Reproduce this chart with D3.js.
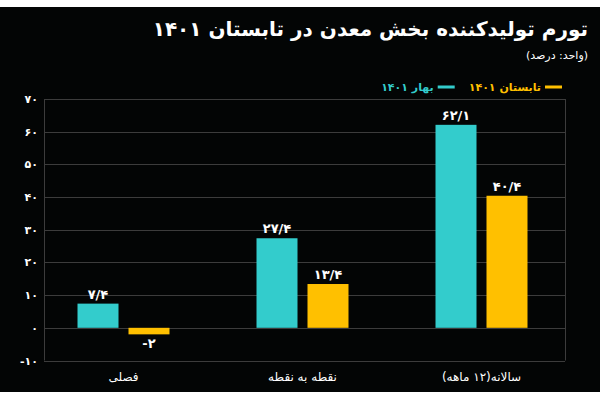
<!DOCTYPE html>
<html>
<head>
<meta charset="utf-8">
<script src="https://cdn.jsdelivr.net/npm/d3@7"></script>
<style>
  html, body { margin: 0; padding: 0; background: #ffffff; }
  svg { display: block; }
  text { font-family: "DejaVu Sans", "Noto Sans", sans-serif; }
</style>
</head>
<body>
<svg id="chart" width="600" height="400"></svg>
<script>
const categories = ["فصلی", "نقطه به نقطه", "سالانه(۱۲ ماهه)"];
const seriesNames = ["بهار ۱۴۰۱", "تابستان ۱۴۰۱"];
const springValues = [7.4, 27.4, 62.1];
const summerValues = [-2, 13.4, 40.4];
const yTicks = [-10, 0, 10, 20, 30, 40, 50, 60, 70];
const colors = ["#33CCCC", "#FFC000"];
const titleText = "تورم تولیدکننده بخش معدن در تابستان ۱۴۰۱";
const subtitleText = "(واحد: درصد)";

const fa = s => String(s).replace(/\d/g, d => "۰۱۲۳۴۵۶۷۸۹"[+d]).replace(".", "/");

const svg = d3.select("#chart");
svg.append("rect").attr("x", 0).attr("y", 7).attr("width", 600).attr("height", 385).attr("fill", "#030505");

const plotLeft = 44, plotRight = 565;
const y = d3.scaleLinear().domain([-10, 70]).range([360.5, 99]);
const x0 = d3.scaleBand().domain(categories).range([34, 571]);
const x1 = d3.scaleBand().domain(seriesNames).range([0, x0.bandwidth()]).paddingInner(0.196).paddingOuter(0.853);

// grid
const grid = svg.append("g");
grid.selectAll("line").data(yTicks).join("line")
  .attr("x1", plotLeft).attr("x2", plotRight)
  .attr("y1", d => Math.round(y(d)) + 0.5).attr("y2", d => Math.round(y(d)) + 0.5)
  .attr("stroke", "#3c3c3c").attr("stroke-width", 1);
svg.append("line").attr("x1", plotLeft + 0.5).attr("x2", plotLeft + 0.5)
  .attr("y1", y(70)).attr("y2", y(-10)).attr("stroke", "#3c3c3c");
svg.append("line").attr("x1", plotRight + 0.5).attr("x2", plotRight + 0.5)
  .attr("y1", y(70)).attr("y2", y(-10)).attr("stroke", "#3c3c3c");

// y axis labels
const yAxis = d3.axisLeft(y).tickValues(yTicks).tickSize(0).tickPadding(6).tickFormat(d => fa(d));
const ya = svg.append("g").attr("transform", `translate(${plotLeft},0)`).call(yAxis);
ya.select(".domain").remove();
ya.selectAll("text").attr("fill", "#ffffff").attr("font-size", 11).attr("font-weight", "bold")
  .attr("direction", "ltr").style("font-family", "'DejaVu Sans', sans-serif");

// bars
const data = categories.map((c, i) => ({ cat: c, vals: [springValues[i], summerValues[i]] }));
const groups = svg.selectAll("g.grp").data(data).join("g").attr("class", "grp")
  .attr("transform", d => `translate(${x0(d.cat)},0)`);
groups.selectAll("rect").data(d => d.vals.map((v, j) => ({ v, s: seriesNames[j], j }))).join("rect")
  .attr("x", d => x1(d.s)).attr("width", x1.bandwidth())
  .attr("y", d => y(Math.max(0, d.v))).attr("height", d => Math.abs(y(d.v) - y(0)))
  .attr("fill", d => colors[d.j]);
groups.selectAll("text").data(d => d.vals.map((v, j) => ({ v, s: seriesNames[j], j }))).join("text")
  .attr("x", d => x1(d.s) + x1.bandwidth() / 2)
  .attr("y", d => d.v >= 0 ? y(d.v) - 5 : y(d.v) + 14)
  .attr("text-anchor", "middle").attr("direction", "ltr")
  .attr("fill", "#ffffff").attr("font-size", 13).attr("font-weight", "bold")
  .text(d => fa(d.v));

// category labels
const xAxis = d3.axisBottom(x0).tickSize(0).tickPadding(0);
const xa = svg.append("g").attr("transform", `translate(0,372)`).call(xAxis);
xa.select(".domain").remove();
xa.selectAll("text").attr("fill", "#ffffff").attr("font-size", 12).attr("direction", "rtl")
  .attr("text-anchor", "middle").style("font-family", "'DejaVu Sans', sans-serif");

// title
svg.append("text").attr("x", 588).attr("y", 36).attr("direction", "rtl").attr("text-anchor", "start")
  .attr("fill", "#ffffff").attr("font-size", 20).attr("font-weight", "bold").text(titleText);
svg.append("text").attr("x", 588).attr("y", 59).attr("direction", "rtl").attr("text-anchor", "start")
  .attr("fill", "#ffffff").attr("font-size", 11).text(subtitleText);

// legend
const lg = svg.append("g");
let cursor = 562;
[1, 0].forEach(j => {
  const lineLen = 17;
  lg.append("line").attr("x1", cursor - lineLen).attr("x2", cursor).attr("y1", 87).attr("y2", 87)
    .attr("stroke", colors[j]).attr("stroke-width", 3);
  const t = lg.append("text").attr("x", cursor - lineLen - 4).attr("y", 91).attr("direction", "rtl")
    .attr("text-anchor", "start").attr("fill", colors[j]).attr("font-size", 11).attr("font-weight", "bold")
    .text(seriesNames[j]);
  const w = t.node().getComputedTextLength();
  cursor = cursor - lineLen - 4 - w - 14;
});
</script>
</body>
</html>
